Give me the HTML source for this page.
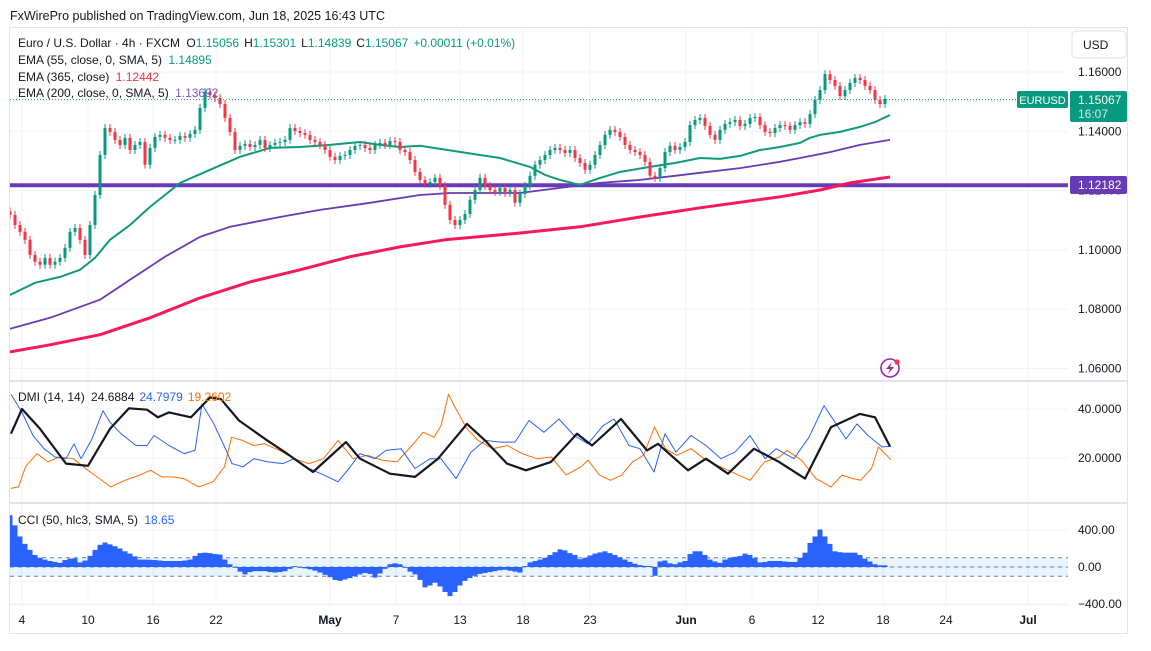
<!DOCTYPE html>
<html><head><meta charset="utf-8">
<style>
html,body{margin:0;padding:0;background:#fff;}
svg{display:block;font-family:"Liberation Sans",sans-serif;}
</style></head>
<body>
<svg id="c" width="1151" height="651" viewBox="0 0 1151 651" xmlns="http://www.w3.org/2000/svg">
<defs>
<clipPath id="cpPrice"><rect x="10" y="28" width="1058" height="352"/></clipPath>
<clipPath id="cpDmi"><rect x="10" y="383" width="1058" height="118"/></clipPath>
<clipPath id="cpCci"><rect x="10" y="504" width="1058" height="101"/></clipPath>
</defs>
<text x="10" y="20" font-size="12.5" fill="#131722">FxWirePro published on TradingView.com, Jun 18, 2025 16:43 UTC</text>
<rect x="9.5" y="27.5" width="1118" height="606" fill="none" stroke="#e0e3eb"/>
<g id="grid"></g>
<line x1="10" y1="381" x2="1128" y2="381" stroke="#e0e3eb" stroke-width="2"/>
<line x1="10" y1="503" x2="1128" y2="503" stroke="#e0e3eb" stroke-width="2"/>
<line x1="10" y1="605" x2="1068" y2="605" stroke="#f0f3fa"/>
<g id="price" clip-path="url(#cpPrice)"></g>
<g id="dmi" clip-path="url(#cpDmi)"></g>
<g id="cci" clip-path="url(#cpCci)"></g>
<g id="axes"></g>
<g font-size="12">
<text x="18" y="47" fill="#131722">Euro / U.S. Dollar · 4h · FXCM <tspan dx="3">O</tspan><tspan fill="#089981">1.15056</tspan><tspan dx="5">H</tspan><tspan fill="#089981">1.15301</tspan><tspan dx="5">L</tspan><tspan fill="#089981">1.14839</tspan><tspan dx="5">C</tspan><tspan fill="#089981">1.15067</tspan><tspan dx="5" fill="#089981">+0.00011 (+0.01%)</tspan></text>
<text x="18" y="64" fill="#131722">EMA (55, close, 0, SMA, 5) <tspan dx="3" fill="#089981">1.14895</tspan></text>
<text x="18" y="81" fill="#131722">EMA (365, close) <tspan dx="3" fill="#f23645">1.12442</tspan></text>
<text x="18" y="97" fill="#131722">EMA (200, close, 0, SMA, 5) <tspan dx="3" fill="#7e57c2">1.13692</tspan></text>
</g>
<text x="18" y="401" font-size="12" fill="#131722">DMI (14, 14) <tspan dx="3">24.6884</tspan><tspan dx="5" fill="#2962ff">24.7979</tspan><tspan dx="5" fill="#ff6d00">19.2602</tspan></text>
<text x="18" y="524" font-size="12" fill="#131722">CCI (50, hlc3, SMA, 5) <tspan dx="3" fill="#2962ff">18.65</tspan></text>
<rect x="1072" y="31" width="54" height="27" rx="4" fill="#fff" stroke="#e0e3eb"/>
<text x="1083" y="49" font-size="12" fill="#131722">USD</text>
<rect x="1017" y="91" width="51" height="17" rx="2" fill="#089981"/>
<text x="1042.5" y="104" font-size="11" fill="#fff" text-anchor="middle">EURUSD</text>
<rect x="1070" y="91" width="57" height="31" rx="2" fill="#089981"/>
<text x="1078" y="104" font-size="12" fill="#fff">1.15067</text>
<text x="1078" y="118" font-size="12" fill="#cdeee8">16:07</text>
<rect x="1070" y="176" width="57" height="18" rx="2" fill="#673ab7"/>
<text x="1078" y="189" font-size="12" fill="#fff">1.12182</text>
<g>
<circle cx="890" cy="368" r="9" fill="none" stroke="#9c27b0" stroke-width="1.6"/>
<path d="M892 362 L886 369 L890 369 L888 374 L894 367 L890 367 Z" fill="#9c27b0"/>
<circle cx="897" cy="362" r="2.6" fill="#f23645"/>
</g>
</svg>
<script>
// ---- data ----
const closes = [1.1118,1.1084,1.1061,1.1034,1.0983,1.0960,1.0950,1.0973,1.0950,1.0960,1.0973,1.1007,1.1061,1.1074,1.1034,1.0983,1.1084,1.1185,1.1320,1.1411,1.1398,1.1371,1.1354,1.1378,1.1337,1.1354,1.1364,1.1287,1.1344,1.1381,1.1388,1.1378,1.1371,1.1371,1.1384,1.1378,1.1391,1.1405,1.1479,1.1533,1.1522,1.1512,1.1492,1.1445,1.1398,1.1337,1.1351,1.1357,1.1347,1.1354,1.1371,1.1344,1.1354,1.1361,1.1364,1.1371,1.1411,1.1401,1.1394,1.1388,1.1371,1.1364,1.1354,1.1337,1.1314,1.1303,1.1317,1.1320,1.1337,1.1351,1.1354,1.1344,1.1337,1.1354,1.1361,1.1354,1.1367,1.1364,1.1337,1.1330,1.1303,1.1263,1.1236,1.1223,1.1229,1.1243,1.1216,1.1152,1.1101,1.1084,1.1101,1.1121,1.1169,1.1202,1.1243,1.1216,1.1202,1.1196,1.1209,1.1192,1.1202,1.1159,1.1189,1.1216,1.1250,1.1287,1.1303,1.1320,1.1337,1.1344,1.1337,1.1327,1.1337,1.1310,1.1293,1.1270,1.1287,1.1320,1.1354,1.1388,1.1405,1.1398,1.1381,1.1354,1.1337,1.1330,1.1320,1.1297,1.1250,1.1243,1.1276,1.1330,1.1351,1.1337,1.1347,1.1364,1.1421,1.1438,1.1445,1.1418,1.1388,1.1371,1.1405,1.1425,1.1431,1.1438,1.1418,1.1425,1.1445,1.1448,1.1421,1.1398,1.1394,1.1411,1.1421,1.1418,1.1405,1.1421,1.1431,1.1425,1.1458,1.1506,1.1539,1.1593,1.1573,1.1553,1.1519,1.1539,1.1563,1.1580,1.1573,1.1553,1.1539,1.1506,1.1492,1.1509];
const firstOpen = 1.1130;
const ema55Idx = [0,5,10,14,17,20,24,28,31,34,40,46,52,58,64,70,74,78,82,94,98,104,107,110,114,118,122,128,133,138,142,146,150,154,158,160,162,166,170,173,176];
const ema55Val = [1.0848,1.0889,1.0909,1.0933,1.0973,1.1034,1.1084,1.1145,1.1185,1.1226,1.1270,1.1314,1.1344,1.1347,1.1354,1.1364,1.1354,1.1347,1.1351,1.1320,1.1310,1.1280,1.1253,1.1236,1.1219,1.1243,1.1263,1.1280,1.1293,1.1310,1.1307,1.1317,1.1337,1.1347,1.1361,1.1378,1.1388,1.1398,1.1415,1.1431,1.1455];
const ema200Idx = [0,8,18,24,31,38,44,54,62,72,82,88,102,110,118,126,133,138,146,154,158,164,170,176];
const ema200Val = [1.0734,1.0771,1.0832,1.0899,1.0977,1.1044,1.1078,1.1111,1.1135,1.1159,1.1185,1.1192,1.1192,1.1209,1.1226,1.1236,1.1250,1.1260,1.1276,1.1297,1.1310,1.1330,1.1354,1.1371];
const ema365Idx = [0,8,18,28,38,48,58,68,78,87,102,114,126,138,154,162,168,176];
const ema365Val = [1.0656,1.0680,1.0714,1.0771,1.0838,1.0892,1.0933,1.0977,1.1010,1.1034,1.1057,1.1078,1.1111,1.1142,1.1179,1.1202,1.1226,1.1246];
const levelPrice = 1.12182;
const lastPrice = 1.15067;
const priceTicks = [1.16,1.14,1.12,1.10,1.08,1.06];
const priceTickLabels = ["1.16000","1.14000","1.12000","1.10000","1.08000","1.06000"];
const adxIdx = [0.2,2.4,6,11.2,15.6,20,23.8,27.4,29.6,31.8,36.2,40,42.2,45.8,51,55.4,60.6,67.2,70,76,81,85.6,91.4,95,99.4,103.2,108.2,113.4,116.4,122.2,127.4,129.6,135.6,139.2,143.6,148.8,153.8,159,164.2,170,173,176];
const adxVal = [29.9,40,31.9,17.7,16.8,31.9,40.3,39.7,36.6,38.6,36.6,44.7,44,35.3,27.8,21.8,14.3,26.5,19.7,13.6,12.3,19.7,33.9,27.2,17.7,15,18.4,29.9,25.1,35.9,23.1,25.8,15,19.7,13.6,23.8,18.4,11.6,32.6,38,36.6,24.7];
const pdiIdx = [0.2,2.4,4.6,6.8,9,11.2,12.8,14.2,16.4,18.6,20,22.2,25.2,27.4,28.8,31.8,34.8,37,38.4,40.6,42.8,44.4,46.6,48.8,51.6,54.6,56.8,59.8,62.8,65.6,67.8,70,73,75.2,78.2,81,84,86.2,89.2,92.2,95,98,101,103.8,106.8,109.8,112.8,115.6,118.6,120.8,123.8,126,128.8,131,133.2,136.2,139.2,142.2,145,148,151,153.2,156.8,159.8,162.8,165,167.2,169.4,171.6,174.4,176.2];
const pdiVal = [46,38.6,29.2,23.8,20.4,19.7,25.8,19.7,27.8,39.3,34.6,29.9,25.1,25.1,29.2,25.1,21.8,23.1,42,34.6,25.1,17.7,16.4,19.7,18.4,17.7,19.7,15.7,13,10.3,15.7,21.8,19.7,23.1,23.8,15.7,19.7,19.7,11.6,22.4,27.2,26.5,26.5,35.3,30.5,35.9,29.2,25.8,33.2,35.9,25.1,23.8,14.3,29.9,22.4,29.2,25.1,19.7,22.4,29.2,19.7,23.8,19.7,28.5,41.4,34.6,27.8,33.9,29.2,24.5,24.8];
const mdiIdx = [0.2,1.7,3.1,5.4,7.6,9.8,12.7,15.6,17.9,20.1,23,25.9,28.1,30.4,32.6,34.8,37.7,40.6,42.9,44.3,46.5,48.7,50.9,53.9,56.8,59.8,62.7,65.6,68.6,71.5,74.5,77.4,80.4,82.6,84.8,86.2,87.7,89.2,91.4,93.6,96.5,99.5,102.4,105.4,108.3,111.2,114.2,115.6,117.9,120.1,122.3,124.5,126.7,128.9,131.1,133.3,136.2,139.2,142.1,145.1,148,150.9,153.9,155.4,158.3,161.2,164.2,166.4,168.6,170.1,172.3,173.7,176.2];
const mdiVal = [7.6,8.2,16.4,21.8,18.4,20.4,19.7,15,11.6,8.2,10.9,13,15,12.3,12.3,11.6,8.2,10.3,16.4,28.5,27.2,25.1,25.8,23.1,19.7,17.7,19.7,27.2,19.7,21.1,19.1,18.4,25.1,30.5,28.5,33.2,46,40,31.9,27.2,23.8,25.1,21.8,19.7,20.4,13,16.4,19.1,13,10.9,13,18.4,21.1,32.6,23.8,21.1,23.8,19.1,16.4,13.6,10.9,18.4,20.4,23.1,19.1,11.6,8.2,13,11.6,10.9,15.7,24.5,19.3];
const dmiTicks = [40,20];
const dmiTickLabels = ["40.0000","20.0000"];
const cciVals = [560,450,330,250,185,130,100,80,65,55,45,75,90,95,50,70,120,185,240,265,245,225,200,170,145,115,80,80,78,75,70,65,65,65,65,70,80,120,150,155,150,140,135,80,30,-5,-50,-80,-55,-45,-45,-45,-55,-60,-55,-45,-20,10,0,-15,-25,-40,-60,-85,-110,-140,-150,-135,-120,-100,-80,-65,-75,-115,-70,-20,30,40,30,-5,-50,-80,-140,-220,-200,-170,-210,-270,-315,-270,-200,-150,-120,-95,-75,-65,-55,-45,-35,-30,-40,-50,-60,10,50,65,80,100,130,160,190,180,150,130,85,100,125,145,158,170,150,130,105,80,55,35,20,12,10,-95,60,70,40,30,50,65,140,170,170,130,80,60,45,80,100,110,120,145,130,95,50,55,65,65,65,60,55,55,100,155,260,330,405,330,250,170,160,155,155,155,130,90,60,30,18,18];
const cciTicks = [400,0,-400];
const cciTickLabels = ["400.00","0.00","\u2212400.00"];
const timeIdx = [2.4,15.6,28.6,41.2,64,77.2,90,102.6,116,135.2,148.4,161.6,174.6,187.2,203.6];
const timeLabels = ["4","10","16","22","May","7","13","18","23","Jun","6","12","18","24","Jul"];
const timeBold = [false,false,false,false,true,false,false,false,false,true,false,false,false,false,true];

// ---- scales ----
const X0 = 10, BAR = 5;
const xs = i => X0 + i * BAR;
const yP = p => 72 + (1.16 - p) * 2965;
const yD = v => 458 - (v - 20) * 2.45;
const yC = v => 567 - v * 0.0925;
const NS = "http://www.w3.org/2000/svg";
function mk(tag, attrs, parent) {
  const e = document.createElementNS(NS, tag);
  for (const k in attrs) e.setAttribute(k, attrs[k]);
  parent.appendChild(e);
  return e;
}
const grid = document.getElementById('grid');
const price = document.getElementById('price');
const dmi = document.getElementById('dmi');
const cci = document.getElementById('cci');
const axes = document.getElementById('axes');

timeIdx.forEach((t) => {
  const gl = mk('line', {x1: xs(t), x2: xs(t), y1: 28, y2: 605, stroke: '#f0f3fa'}, grid);
  
  
});
priceTicks.forEach((p, k) => {
  const gl = mk('line', {x1: 10, x2: 1068, y1: yP(p), y2: yP(p), stroke: '#f0f3fa'}, grid);
  
  
  const t = mk('text', {x: 1078, y: yP(p) + 4, 'font-size': 12, fill: '#131722'}, axes);
  t.textContent = priceTickLabels[k];
  
  
});
dmiTicks.forEach((v, k) => {
  const gl = mk('line', {x1: 10, x2: 1068, y1: yD(v), y2: yD(v), stroke: '#f0f3fa'}, grid);
  
  
  const t = mk('text', {x: 1078, y: yD(v) + 4, 'font-size': 12, fill: '#131722'}, axes);
  t.textContent = dmiTickLabels[k];
  
  
});
cciTicks.forEach((v, k) => {
  const gl = mk('line', {x1: 10, x2: 1068, y1: yC(v), y2: yC(v), stroke: '#f0f3fa'}, grid);
  
  
  const t = mk('text', {x: 1078, y: yC(v) + 4, 'font-size': 12, fill: '#131722'}, axes);
  t.textContent = cciTickLabels[k];
  
  
});
timeLabels.forEach((lab, k) => {
  const t = mk('text', {x: xs(timeIdx[k]), y: 624, 'font-size': 12, fill: '#131722', 'text-anchor': 'middle', 'font-weight': timeBold[k] ? 'bold' : 'normal'}, axes);
  t.textContent = lab;
  
  
});

function poly(idx, vals, ys, color, w, parent, name) {
  const pts = idx.map((i, k) => xs(i).toFixed(1) + ',' + ys(vals[k]).toFixed(1)).join(' ');
  const pl = mk('polyline', {points: pts, fill: 'none', stroke: color, 'stroke-width': w, 'stroke-linejoin': 'round'}, parent);
  
  
}
const lvl = mk('line', {x1: 10, x2: 1068, y1: yP(levelPrice), y2: yP(levelPrice), stroke: '#673ab7', 'stroke-width': 4}, price);


poly(ema365Idx, ema365Val, yP, '#f7195a', 3, price, 'ema-365-line');
poly(ema200Idx, ema200Val, yP, '#673ab7', 1.8, price, 'ema-200-line');
poly(ema55Idx, ema55Val, yP, '#0f9a78', 2, price, 'ema-55-line');
closes.forEach((c, i) => {
  const o = i === 0 ? firstOpen : closes[i - 1];
  const up = c >= o;
  const col = up ? '#089981' : '#f23645';
  const hi = Math.max(o, c), lo = Math.min(o, c);
  const x = xs(i);
  const wk = mk('line', {x1: x, x2: x, y1: yP(hi) - 4, y2: yP(lo) + 4, stroke: col, 'stroke-width': 1}, price);
  
  
  const b = mk('rect', {x: x - 1.5, y: yP(hi), width: 3, height: Math.max(1, yP(lo) - yP(hi)), fill: col}, price);
  
  
});
const lp = mk('line', {x1: 10, x2: 1068, y1: yP(lastPrice), y2: yP(lastPrice), stroke: '#089981', 'stroke-width': 1, 'stroke-dasharray': '1 2'}, price);



poly(mdiIdx, mdiVal, yD, '#ff6d00', 1, dmi, 'minus-di-line');
poly(pdiIdx, pdiVal, yD, '#2962ff', 1, dmi, 'plus-di-line');
poly(adxIdx, adxVal, yD, '#131722', 2.2, dmi, 'adx-line');

const band = mk('rect', {x: 10, y: yC(100), width: 1058, height: yC(-100) - yC(100), fill: '#2196f3', 'fill-opacity': 0.1}, cci);


[100, 0, -100].forEach(v => {
  const l = mk('line', {x1: 10, x2: 1068, y1: yC(v), y2: yC(v), stroke: '#787b86', 'stroke-dasharray': '4 4'}, cci);
  
  
});
cciVals.forEach((v, i) => {
  const y0 = yC(0), y1 = yC(v);
  const r = mk('rect', {x: xs(i) - 2.5, y: Math.min(y0, y1), width: 5, height: Math.max(0.8, Math.abs(y1 - y0)), fill: '#2962ff'}, cci);
  
  
});
</script>
</body></html>
